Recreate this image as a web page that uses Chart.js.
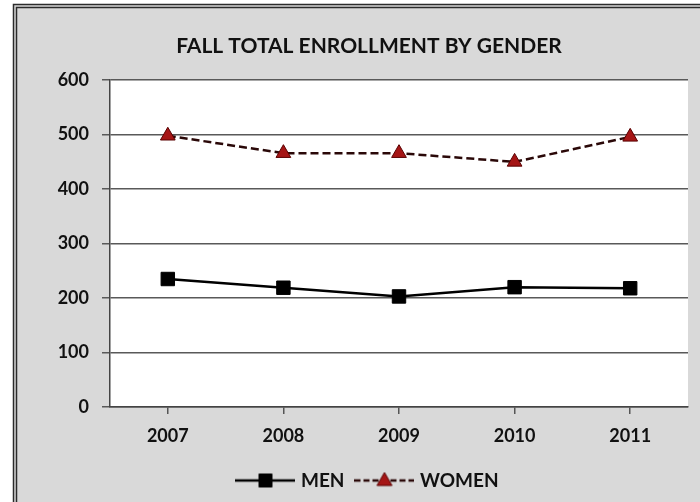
<!DOCTYPE html>
<html>
<head>
<meta charset="utf-8">
<script src="https://cdn.jsdelivr.net/npm/chart.js@4"></script>
<style>
  html, body { margin: 0; padding: 0; background: #fff; }
  #wrap { width: 700px; height: 502px; }
</style>
</head>
<body>
<div id="wrap"><canvas id="enrollment" width="700" height="502"></canvas></div>
<script>
var years = ['2007', '2008', '2009', '2010', '2011'];
var men = [235, 219, 203, 220, 218];
var women = [498, 466, 466, 450, 496];
var yTicks = [0, 100, 200, 300, 400, 500, 600];

var FONT = 'Lato, "Open Sans", sans-serif';

// little line + marker pictures used as legend symbols
function legendSymbol(dash, color, stroke, shape) {
  var c = document.createElement('canvas');
  c.width = 60; c.height = 18;
  var g = c.getContext('2d');
  g.strokeStyle = stroke;
  g.lineWidth = 2.5;
  g.setLineDash(dash);
  g.beginPath(); g.moveTo(0, 9); g.lineTo(60, 9); g.stroke();
  g.setLineDash([]);
  g.fillStyle = color;
  g.beginPath();
  if (shape === 'rect') {
    g.rect(23.5, 2.5, 13, 13);
  } else {
    g.moveTo(30, 1); g.lineTo(37.5, 14); g.lineTo(22.5, 14); g.closePath();
  }
  g.fill();
  g.lineWidth = 1; g.strokeStyle = shape === 'rect' ? '#000' : '#5a0000';
  g.stroke();
  return c;
}

var menSymbol = legendSymbol([], '#000', '#000', 'rect');
var womenSymbol = legendSymbol([6, 3], '#a51515', '#2a0808', 'triangle');

// gray frame with double dark edge and white plot area
var frame = {
  id: 'frame',
  beforeDraw: function(chart) {
    var ctx = chart.ctx, a = chart.chartArea;
    ctx.save();
    ctx.fillStyle = '#ffffff';
    ctx.fillRect(0, 0, chart.width, chart.height);
    ctx.fillStyle = '#d9d9d9';
    ctx.fillRect(13, 4, chart.width - 13, chart.height - 4);
    ctx.strokeStyle = '#2b2b2b';
    ctx.lineWidth = 1.5;
    ctx.beginPath();
    ctx.moveTo(13.5, chart.height); ctx.lineTo(13.5, 4.5); ctx.lineTo(chart.width, 4.5);
    ctx.moveTo(16.5, chart.height); ctx.lineTo(16.5, 7.5); ctx.lineTo(chart.width, 7.5);
    ctx.stroke();
    ctx.fillStyle = '#ffffff';
    ctx.fillRect(a.left, a.top, a.right - a.left, a.bottom - a.top);
    ctx.restore();
  }
};

new Chart(document.getElementById('enrollment'), {
  type: 'line',
  data: {
    labels: years,
    datasets: [{
      label: 'MEN',
      data: men,
      borderColor: '#000',
      borderWidth: 2.5,
      pointStyle: 'rect',
      pointRadius: 9.5,
      pointBackgroundColor: '#000',
      pointBorderColor: '#000',
      pointBorderWidth: 1,
      tension: 0
    }, {
      label: 'WOMEN',
      data: women,
      borderColor: '#2a0808',
      borderWidth: 2.5,
      borderDash: [8, 4],
      pointStyle: 'triangle',
      pointRadius: 8.5,
      pointBackgroundColor: '#a51515',
      pointBorderColor: '#5a0000',
      pointBorderWidth: 1,
      tension: 0
    }]
  },
  options: {
    responsive: false,
    animation: false,
    layout: { padding: { left: 50, right: 12, top: 34, bottom: 2 } },
    plugins: {
      title: {
        display: true,
        text: 'FALL TOTAL ENROLLMENT BY GENDER',
        color: '#111',
        font: { family: FONT, size: 21, weight: 'bold' },
        padding: { top: 0, bottom: 21 }
      },
      legend: {
        position: 'bottom',
        labels: {
          usePointStyle: true,
          pointStyleWidth: 52,
          boxHeight: 16,
          padding: 14,
          color: '#111',
          font: { family: FONT, size: 19, weight: 'bold' },
          generateLabels: function(chart) {
            return chart.data.datasets.map(function(ds, i) {
              return {
                text: ds.label,
                pointStyle: i === 0 ? menSymbol : womenSymbol,
                fillStyle: 'transparent',
                strokeStyle: 'transparent',
                lineWidth: 0,
                fontColor: '#111',
                datasetIndex: i
              };
            });
          }
        }
      },
      tooltip: { enabled: false }
    },
    scales: {
      x: {
        offset: true,
        afterFit: function(scale) { scale.height = 50; },
        grid: { drawOnChartArea: false, tickLength: 7, color: '#555', lineWidth: 1.5 },
        border: { color: '#444', width: 1.5 },
        ticks: { color: '#111', padding: 11, font: { family: FONT, size: 18, weight: 'bold' } }
      },
      y: {
        min: yTicks[0],
        max: yTicks[yTicks.length - 1],
        afterFit: function(scale) { scale.width = 60; },
        afterBuildTicks: function(scale) {
          scale.ticks = yTicks.map(function(v) { return { value: v }; });
        },
        grid: { color: '#595959', lineWidth: 1.5, tickLength: 8 },
        border: { color: '#444', width: 1.5 },
        ticks: { color: '#111', padding: 13, font: { family: FONT, size: 18, weight: 'bold' } }
      }
    }
  },
  plugins: [frame]
});
</script>
</body>
</html>
